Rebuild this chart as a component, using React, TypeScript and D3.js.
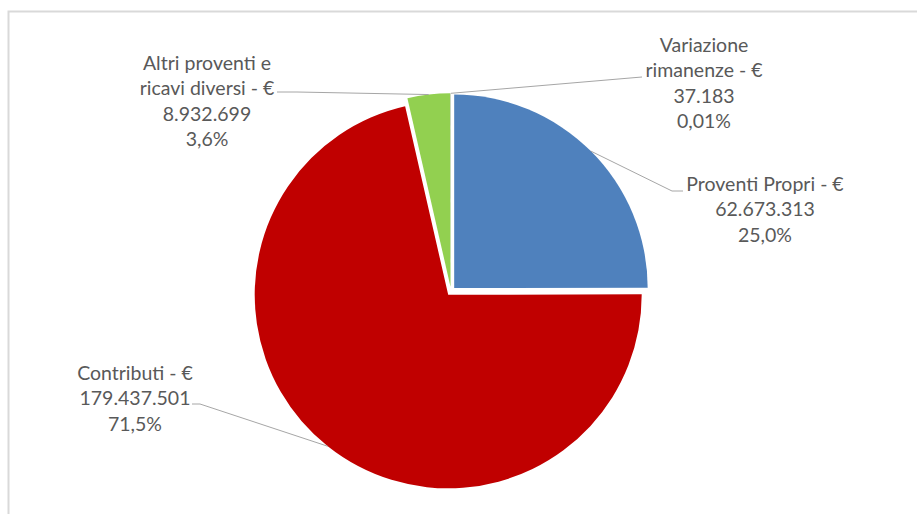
import React from "react";
import * as d3 from "d3";

const categories = ["Proventi Propri", "Contributi", "Altri proventi e ricavi diversi", "Variazione rimanenze"];
const values = [62673313, 179437501, 8932699, 37183];
const valueLabels = ["62.673.313", "179.437.501", "8.932.699", "37.183"];
const percentLabels = ["25,0%", "71,5%", "3,6%", "0,01%"];
const nameLines = [["Proventi Propri - €"], ["Contributi - €"], ["Altri proventi e", "ricavi diversi - €"], ["Variazione", "rimanenze - €"]];
const colors = ["#4f81bd", "#c00000", "#92d050", "#8064a2"];

// layout: label block centre x, first line centre y, leader elbow, leader end
const labelLayout = [
  { x: 765, y: 184, elbow: [672, 191], end: [683, 191] },
  { x: 135, y: 373, elbow: [200, 404], end: [192, 404] },
  { x: 207, y: 63, elbow: [297, 92], end: [277, 92] },
  { x: 704, y: 45, elbow: [636, 77.5], end: [642, 77] },
];

export default function App() {
  const W = 917, H = 514;
  const cx = 451, cy = 291.3, r = 193.5, explode = 4.5;
  const lineH = 25.5;
  const pie = d3.pie<number>().sort(null).value((d) => d)(values);
  const arc = d3.arc<d3.PieArcDatum<number>>().innerRadius(0).outerRadius(r);

  return (
    <svg width={W} height={H} style={{ position: "absolute", left: 0, top: 0 }}>
      <rect x={0} y={0} width={W} height={H} fill="#fff" />
      <rect x={8.5} y={11.5} width={W + 20} height={H + 20} fill="#fff" stroke="#d9d9d9" strokeWidth={2} />
      {pie.map((p, i) => {
        const mid = (p.startAngle + p.endAngle) / 2;
        const ox = explode * Math.sin(mid), oy = -explode * Math.cos(mid);
        return (
          <path key={"s" + i} d={arc(p) || ""} transform={`translate(${cx + ox},${cy + oy})`} fill={colors[i]} />
        );
      })}
      {pie.map((p, i) => {
        const mid = (p.startAngle + p.endAngle) / 2;
        const sx = cx + (r + explode) * Math.sin(mid);
        const sy = cy - (r + explode) * Math.cos(mid);
        const L = labelLayout[i];
        return (
          <polyline key={"l" + i} points={`${sx},${sy} ${L.elbow[0]},${L.elbow[1]} ${L.end[0]},${L.end[1]}`} fill="none" stroke="#a6a6a6" strokeWidth={1} />
        );
      })}
      {categories.map((c, i) => {
        const L = labelLayout[i];
        const lines = [...nameLines[i], valueLabels[i], percentLabels[i]];
        return (
          <text key={"t" + i} textAnchor="middle" fill="#595959" fontFamily="Lato, 'Noto Sans', sans-serif" fontSize={19.5}>
            {lines.map((t, j) => (
              <tspan key={j} x={L.x} y={L.y + j * lineH} dy="0.35em">{t}</tspan>
            ))}
          </text>
        );
      })}
    </svg>
  );
}
